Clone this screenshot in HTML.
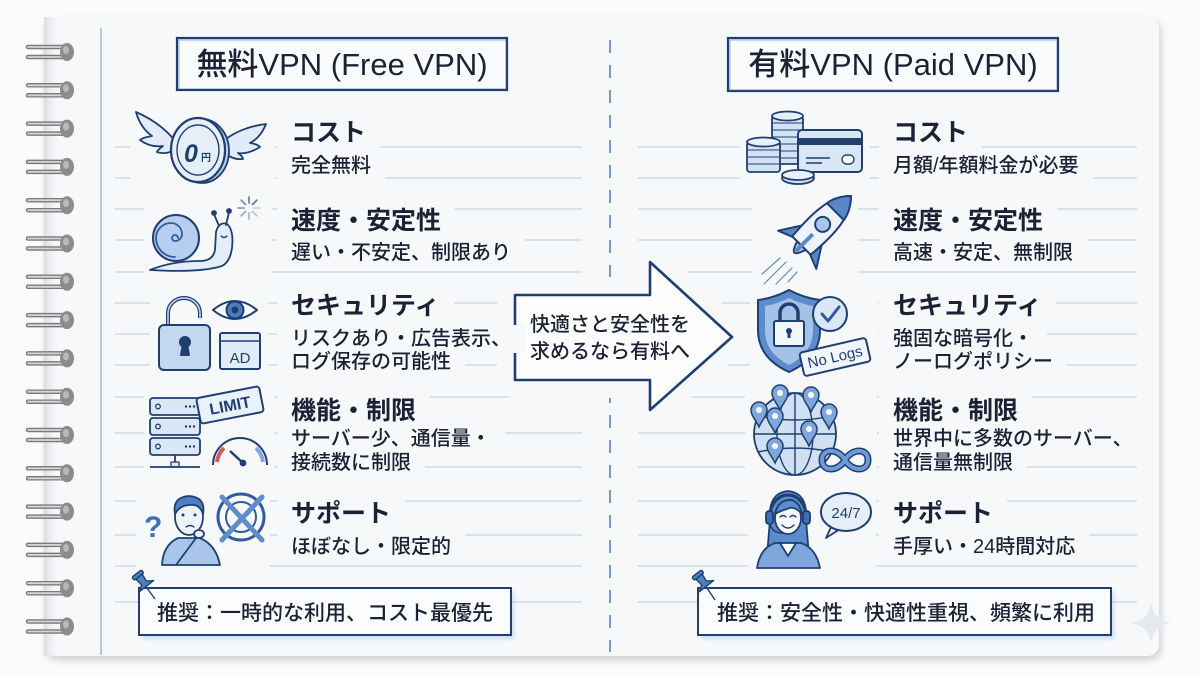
<!DOCTYPE html>
<html><head><meta charset="utf-8">
<style>
html,body{margin:0;padding:0}
body{width:1200px;height:675px;overflow:hidden;position:relative;background:#fbfbfb;font-family:"Liberation Sans","Noto Sans CJK JP",sans-serif;color:#1c2135}
svg{position:absolute;left:0;top:0}
.t{position:absolute;white-space:nowrap;background:#f6f8fa;padding:4px 14px;margin-left:-14px;margin-top:-4px}
.h{font-size:25px;line-height:25px;font-weight:700}
.s{font-size:20px;line-height:20px;font-weight:500}
.title{position:absolute;font-size:31px;line-height:31px;font-weight:500;text-align:center;width:330px;white-space:nowrap}
.rec{position:absolute;font-size:21px;line-height:21px;font-weight:500;white-space:nowrap}
.arr{position:absolute;font-size:20px;line-height:20px;font-weight:500;white-space:nowrap;text-align:center;width:200px}
</style></head><body>
<svg width="1200" height="675" viewBox="0 0 1200 675">
<defs>
<filter id="sh" x="-5%" y="-5%" width="110%" height="115%"><feDropShadow dx="2" dy="4" stdDeviation="4" flood-color="#000" flood-opacity="0.18"/></filter>
<filter id="bl"><feGaussianBlur stdDeviation="2"/></filter>
<linearGradient id="edge" x1="0" x2="1"><stop offset="0" stop-color="#d9dcdf"/><stop offset="1" stop-color="#f6f8fa" stop-opacity="0"/></linearGradient>
<linearGradient id="wire" x1="0" x2="0" y1="0" y2="1"><stop offset="0" stop-color="#eeeeee"/><stop offset="1" stop-color="#8a8a8a"/></linearGradient>
</defs>
<!-- paper -->
<rect x="44" y="17" width="1115" height="639" rx="12" fill="#f6f8fa" filter="url(#sh)"/>
<rect x="44" y="17" width="16" height="639" fill="url(#edge)"/>
<!-- margin line -->
<line x1="101" y1="28" x2="101" y2="655" stroke="#9dbad6" stroke-width="1.5"/>
<!-- ruled lines -->
<g stroke="#c3d6e5" stroke-width="1.3">
<line x1="115" y1="147" x2="582" y2="147"/><line x1="638" y1="147" x2="1137" y2="147"/>
<line x1="115" y1="178" x2="582" y2="178"/><line x1="638" y1="178" x2="1137" y2="178"/>
<line x1="115" y1="209" x2="582" y2="209"/><line x1="638" y1="209" x2="1137" y2="209"/>
<line x1="115" y1="240" x2="582" y2="240"/><line x1="638" y1="240" x2="1137" y2="240"/>
<line x1="115" y1="272" x2="582" y2="272"/><line x1="638" y1="272" x2="1137" y2="272"/>
<line x1="115" y1="303" x2="582" y2="303"/><line x1="638" y1="303" x2="1137" y2="303"/>
<line x1="115" y1="334" x2="582" y2="334"/><line x1="638" y1="334" x2="1137" y2="334"/>
<line x1="115" y1="365" x2="582" y2="365"/><line x1="638" y1="365" x2="1137" y2="365"/>
<line x1="115" y1="397" x2="582" y2="397"/><line x1="638" y1="397" x2="1137" y2="397"/>
<line x1="115" y1="433" x2="582" y2="433"/><line x1="638" y1="433" x2="1137" y2="433"/>
<line x1="115" y1="467" x2="582" y2="467"/><line x1="638" y1="467" x2="1137" y2="467"/>
<line x1="115" y1="501" x2="582" y2="501"/><line x1="638" y1="501" x2="1137" y2="501"/>
<line x1="115" y1="535" x2="582" y2="535"/><line x1="638" y1="535" x2="1137" y2="535"/>
<line x1="115" y1="566" x2="582" y2="566"/><line x1="638" y1="566" x2="1137" y2="566"/>
<line x1="115" y1="602" x2="582" y2="602"/><line x1="638" y1="602" x2="1137" y2="602"/>
</g>
<!-- center dashed -->
<line x1="610" y1="40" x2="610" y2="652" stroke="#6f9ccc" stroke-width="2" stroke-dasharray="13 12"/>
<!-- rings -->
<g id="rings">
<g transform="translate(0,52)"><path d="M28,-5 H66 M28,5 H66" stroke="#7a7a7a" stroke-width="4.5" stroke-linecap="round"/><path d="M28,-5 H66 M28,5 H66" stroke="#d6d6d6" stroke-width="1.8" stroke-linecap="round"/><ellipse cx="67" cy="0" rx="7" ry="9" fill="#8c8c8c"/><ellipse cx="66" cy="-2" rx="3" ry="4" fill="#b9b9b9"/></g>
</g>
<use href="#rings" y="38.3"/><use href="#rings" y="76.6"/><use href="#rings" y="114.9"/><use href="#rings" y="153.2"/><use href="#rings" y="191.5"/><use href="#rings" y="229.8"/><use href="#rings" y="268.1"/><use href="#rings" y="306.4"/><use href="#rings" y="344.7"/><use href="#rings" y="383"/><use href="#rings" y="421.3"/><use href="#rings" y="459.6"/><use href="#rings" y="497.9"/><use href="#rings" y="536.2"/><use href="#rings" y="574.5"/>

<!-- title boxes -->
<rect x="177" y="38" width="330" height="52" fill="#fafbfd" stroke="#1f3f72" stroke-width="2.2"/>
<rect x="179" y="40" width="327" height="49" fill="none" stroke="#3a5f95" stroke-width="0.8" opacity="0.6"/>
<rect x="728" y="38" width="330" height="53" fill="#fafbfd" stroke="#1f3f72" stroke-width="2.2"/>
<rect x="730" y="40" width="327" height="50" fill="none" stroke="#3a5f95" stroke-width="0.8" opacity="0.6"/>

<!-- arrow -->
<polygon points="515,295 650,295 650,262 732,337 650,410 650,380 515,380" fill="#f6f8fa" stroke="#f6f8fa" stroke-width="36" stroke-linejoin="round"/>
<polygon points="515,295 650,295 650,262 732,337 650,410 650,380 515,380" fill="#fdfdfe" stroke="#1f3f72" stroke-width="2.6" stroke-linejoin="round"/>

<!-- icon halos -->
<g fill="#f6f8fa">
<rect x="130" y="106" width="145" height="84"/>
<rect x="144" y="192" width="128" height="82"/>
<rect x="150" y="288" width="118" height="88"/>
<rect x="144" y="382" width="130" height="92"/>
<rect x="136" y="484" width="134" height="88"/>
<rect x="740" y="106" width="130" height="84"/>
<rect x="752" y="190" width="106" height="98"/>
<rect x="750" y="286" width="128" height="92"/>
<rect x="745" y="380" width="132" height="100"/>
<rect x="748" y="484" width="128" height="90"/>
</g>

<!-- ICON 1: winged coin -->
<g stroke="#1f3f72" stroke-width="1.8" stroke-linejoin="round">
<path d="M176,142 C165,128 150,118 136,112 C139,123 145,131 152,136 C146,137 142,138 140,140 C148,146 156,147 163,146 C159,149 157,151 157,152 C165,155 172,152 178,148 Z" fill="#e2ecf8"/>
<path d="M222,142 C234,132 250,126 266,124 C262,134 256,140 250,143 C256,144 258,145 260,147 C252,152 244,154 238,153 C242,156 243,158 243,159 C234,160 228,156 222,151 Z" fill="#e2ecf8"/>
<ellipse cx="202" cy="151" rx="27" ry="32" fill="#b9cfea"/>
<ellipse cx="198" cy="150" rx="27" ry="32" fill="#e6eef8" stroke-width="2.2"/>
<ellipse cx="198" cy="150" rx="21" ry="25" fill="none" stroke-width="1.4"/>
</g>
<text x="184" y="162" font-family="Liberation Sans" font-size="25" font-weight="700" font-style="italic" fill="#1f3f72">0</text>
<text x="201" y="161" font-family="Noto Sans CJK JP" font-size="10" font-weight="700" fill="#1f3f72">円</text>

<!-- ICON 2: snail -->
<g stroke="#1f3f72" stroke-width="1.8" stroke-linejoin="round" stroke-linecap="round">
<path d="M150,270 Q172,261 200,261 Q213,261 215,250 L216,232 Q219,221 227,224 Q234,230 232,248 Q230,262 222,266 Q200,273 150,270 Z" fill="#e4edf8"/>
<path d="M219,226 L214,214 M226,225 L229,212" fill="none"/>
<circle cx="214" cy="213" r="2" fill="#1f3f72"/><circle cx="229" cy="211" r="2" fill="#1f3f72"/>
<path d="M221,236 Q224,239 227,236" fill="none" stroke-width="1.3"/>
<circle cx="176" cy="238" r="23" fill="#b7cfee" stroke-width="2"/>
<path d="M178,238 a3,3 0 1 0 -3,3 a7,7 0 0 0 7,-7 a11,11 0 0 0 -11,-11 a15,15 0 0 0 -15,15 a19,19 0 0 0 19,19" fill="none" stroke="#2f5c9e"/>
</g>
<g stroke="#5b7fa8" stroke-width="1.8" stroke-linecap="round">
<line x1="254" y1="208" x2="260" y2="208" opacity="0.3"/><line x1="252.5" y1="211.5" x2="256.8" y2="215.8" opacity="0.4"/><line x1="249" y1="213" x2="249" y2="219" opacity="0.5"/><line x1="245.5" y1="211.5" x2="241.2" y2="215.8" opacity="0.6"/><line x1="244" y1="208" x2="238" y2="208" opacity="0.7"/><line x1="245.5" y1="204.5" x2="241.2" y2="200.2" opacity="0.8"/><line x1="249" y1="203" x2="249" y2="197" opacity="0.9"/><line x1="252.5" y1="204.5" x2="256.8" y2="200.2"/>
</g>

<!-- ICON 3: lock / eye / AD -->
<g stroke="#1f3f72" stroke-width="2" stroke-linejoin="round">
<path d="M168,326 V313 A16,15 0 0 1 200,313 V318" fill="none" stroke-width="4"/>
<path d="M168,326 V313 A16,15 0 0 1 200,313 V318" fill="none" stroke="#c9dbef" stroke-width="1.5"/>
<rect x="159" y="325" width="51" height="45" rx="5" fill="#c3d7ef"/>
<circle cx="185" cy="342" r="5" fill="#1f3f72"/><path d="M183,344 L181,355 H189 L187,344 Z" fill="#1f3f72"/>
<path d="M213,310 Q235,292 257,310 Q235,328 213,310 Z" fill="#fbfdff"/>
<circle cx="235" cy="310" r="8.5" fill="#4a7cc0"/><circle cx="235" cy="310" r="3.5" fill="#1f3f72" stroke="none"/>
<rect x="220" y="333" width="40" height="36" rx="2" fill="#e2ecf8"/>
<line x1="220" y1="341" x2="260" y2="341" stroke-width="1.5"/>
</g>
<text x="240" y="363" text-anchor="middle" font-family="Liberation Sans" font-size="15" fill="#1f3f72">AD</text>

<!-- ICON 4: server / LIMIT / gauge -->
<g stroke="#1f3f72" stroke-width="1.8" stroke-linejoin="round">
<rect x="150" y="398" width="50" height="17" rx="3" fill="#dbe7f5"/>
<rect x="150" y="418" width="50" height="17" rx="3" fill="#dbe7f5"/>
<rect x="150" y="438" width="50" height="17" rx="3" fill="#dbe7f5"/>
<circle cx="158" cy="406.5" r="2.3" fill="none" stroke-width="1.3"/><circle cx="158" cy="426.5" r="2.3" fill="none" stroke-width="1.3"/><circle cx="158" cy="446.5" r="2.3" fill="none" stroke-width="1.3"/>
<line x1="175" y1="455" x2="175" y2="464"/><rect x="171" y="462" width="8" height="5" fill="#dbe7f5" stroke-width="1.3"/>
<line x1="150" y1="467" x2="200" y2="467"/>
<path d="M213,465 A27,27 0 0 1 267,465" fill="none" stroke-width="2"/>
<path d="M217,462 A23,23 0 0 1 224,448" fill="none" stroke="#d45a5a" stroke-width="4"/>
<path d="M256,448 A23,23 0 0 1 263,462" fill="none" stroke="#7fa7dc" stroke-width="4"/>
<line x1="230" y1="451" x2="243" y2="463" stroke-width="2.5"/><circle cx="243" cy="463" r="2.5" fill="#1f3f72"/>
<g transform="rotate(-11 230 405)"><rect x="198" y="392" width="64" height="26" rx="3" fill="#e9f1fa" stroke-width="2"/></g>
</g>
<g fill="#1f3f72"><circle cx="186" cy="406.5" r="1.2"/><circle cx="190" cy="406.5" r="1.2"/><circle cx="194" cy="406.5" r="1.2"/><circle cx="186" cy="426.5" r="1.2"/><circle cx="190" cy="426.5" r="1.2"/><circle cx="194" cy="426.5" r="1.2"/><circle cx="186" cy="446.5" r="1.2"/><circle cx="190" cy="446.5" r="1.2"/><circle cx="194" cy="446.5" r="1.2"/></g>
<text x="230" y="411" text-anchor="middle" transform="rotate(-11 230 405)" font-family="Liberation Sans" font-size="16" font-weight="700" fill="#1f3f72">LIMIT</text>

<!-- ICON 5: person + X -->
<g stroke="#1f3f72" stroke-width="1.8" stroke-linejoin="round" stroke-linecap="round">
<path d="M162,565 Q163,545 178,538 L200,538 Q216,545 220,565 Z" fill="#a9c6ea"/>
<path d="M176,565 L196,538" fill="none"/>
<ellipse cx="189" cy="517" rx="14" ry="18" fill="#eef3fa"/>
<path d="M175,514 Q172,497 189,496 Q206,497 203,514 Q200,504 190,505 Q180,505 175,514 Z" fill="#4f7fc2"/>
<ellipse cx="199" cy="534" rx="5" ry="4" fill="#eef3fa"/>
<path d="M186,527 Q190,524 194,527" fill="none" stroke-width="1.4"/>
<circle cx="241" cy="517" r="23" fill="none" stroke="#2f5c9e" stroke-width="3"/>
<circle cx="241" cy="517" r="15" fill="none" stroke="#2f5c9e" stroke-width="2"/>
<path d="M222,497 L262,540 M262,497 L222,540" stroke="#5f8dcc" stroke-width="5"/>
</g>
<circle cx="183" cy="515" r="1.5" fill="#1f3f72"/><circle cx="195" cy="515" r="1.5" fill="#1f3f72"/>
<text x="144" y="537" font-family="Liberation Sans" font-size="30" font-weight="700" fill="#3f6fb5">?</text>

<!-- ICON 6: coins + card -->
<g stroke="#1f3f72" stroke-width="1.8" stroke-linejoin="round">
<rect x="772" y="116" width="31" height="48" rx="3" fill="#d3e2f3"/>
<path d="M772,123 H803 M772,130 H803 M772,137 H803 M772,144 H803 M772,151 H803 M772,158 H803" stroke-width="1"/>
<ellipse cx="787.5" cy="116" rx="15.5" ry="4.5" fill="#e8f0f9"/>
<rect x="798" y="130" width="64" height="42" rx="4" fill="#d8e6f6" stroke-width="2"/>
<rect x="798" y="138" width="64" height="7" fill="#233f6e" stroke="none"/>
<path d="M806,158 H830 M806,163 H822" stroke-width="1.4"/>
<rect x="842" y="155" width="12" height="9" rx="4.5" fill="#fbfdff" stroke-width="1.4"/>
<rect x="747" y="142" width="33" height="30" rx="3" fill="#d3e2f3"/>
<path d="M747,150 H780 M747,157 H780 M747,164 H780" stroke-width="1"/>
<ellipse cx="763.5" cy="142" rx="16.5" ry="4.5" fill="#e8f0f9"/>
<ellipse cx="798" cy="178" rx="16" ry="6" fill="#d3e2f3"/>
<ellipse cx="798" cy="175" rx="16" ry="5" fill="#e8f0f9"/>
</g>

<!-- ICON 7: rocket -->
<g stroke="#3f6fb5" stroke-width="1.2" stroke-linecap="round" opacity="0.8">
<path d="M786,262 L764,284 M792,268 L776,284 M780,258 L762,274 M797,272 L788,282"/>
</g>
<g transform="translate(817,230) rotate(45)" stroke="#1f3f72" stroke-width="2" stroke-linejoin="round">
<path d="M-13,6 L-27,28 L-12,22 Z" fill="#5b87c6"/>
<path d="M13,6 L27,28 L12,22 Z" fill="#5b87c6"/>
<path d="M-6,22 Q0,42 6,22 Z" fill="#a9c6ea"/>
<path d="M0,-48 C14,-34 16,-12 13,22 L-13,22 C-16,-12 -14,-34 0,-48 Z" fill="#eef3fa"/>
<path d="M0,-48 C8,-40 11,-32 12,-26 L-12,-26 C-11,-32 -8,-40 0,-48 Z" fill="#5b87c6"/>
<circle cx="0" cy="-8" r="7.5" fill="#a9c6ea"/>
<path d="M0,6 L0,30" stroke-width="4" stroke="#5b87c6"/>
</g>

<!-- ICON 8: shield / check / No Logs -->
<g stroke="#1f3f72" stroke-width="2" stroke-linejoin="round">
<path d="M789,290 Q804,298 820,300 L820,330 Q820,358 789,372 Q758,358 758,330 L758,300 Q774,298 789,290 Z" fill="#5d8bcb"/>
<path d="M789,298 Q801,304 813,306 L813,330 Q813,353 789,365 Q765,353 765,330 L765,306 Q777,304 789,298 Z" fill="#a3c2e8" stroke="none"/>
<path d="M780,322 V313 A9,9 0 0 1 798,313 V322" fill="none" stroke-width="3.5"/>
<rect x="774" y="321" width="30" height="25" rx="2" fill="#f2f6fb"/>
<circle cx="789" cy="331" r="3" fill="#1f3f72" stroke="none"/><rect x="787.5" y="331" width="3" height="7" fill="#1f3f72" stroke="none"/>
<circle cx="830" cy="314" r="17" fill="#d9e7f7"/>
<path d="M822,314 L828,321 L839,307" fill="none" stroke="#2f5c9e" stroke-width="3" stroke-linecap="round"/>
<g transform="rotate(-13 835 357)"><rect x="801" y="345" width="68" height="24" rx="3" fill="#f2f6fb"/></g>
</g>
<text x="835" y="362" text-anchor="middle" transform="rotate(-13 835 357)" font-family="Liberation Sans" font-size="15" fill="#1f3f72">No Logs</text>

<!-- ICON 9: globe + pins + infinity -->
<g stroke="#1f3f72" stroke-width="1.8" stroke-linejoin="round">
<circle cx="795" cy="434" r="41" fill="#cfe0f3"/>
<ellipse cx="795" cy="434" rx="18" ry="41" fill="none" stroke-width="1.4"/>
<path d="M795,393 V475 M754,434 H836 M758,416 Q795,424 832,416 M758,452 Q795,444 832,452" fill="none" stroke-width="1.4"/>
</g>
<g stroke="#1f3f72" stroke-width="1.5" fill="#7fa7dc">
<path d="M780,410 C777,403 772,399 772,393 A8,8 0 1 1 788,393 C788,399 783,403 780,410 Z"/>
<path d="M811,412 C808,405 803,401 803,395 A8,8 0 1 1 819,395 C819,401 814,405 811,412 Z"/>
<path d="M759,427 C756,420 751,416 751,410 A8,8 0 1 1 767,410 C767,416 762,420 759,427 Z"/>
<path d="M775,433 C772,426 767,422 767,416 A8,8 0 1 1 783,416 C783,422 778,426 775,433 Z"/>
<path d="M829,429 C826,422 821,418 821,412 A8,8 0 1 1 837,412 C837,418 832,422 829,429 Z"/>
<path d="M809,446 C806,439 801,435 801,429 A8,8 0 1 1 817,429 C817,435 812,439 809,446 Z"/>
<path d="M775,463 C772,456 767,452 767,446 A8,8 0 1 1 783,446 C783,452 778,456 775,463 Z"/>
</g>
<g fill="#fbfdff"><circle cx="780" cy="393" r="3"/><circle cx="811" cy="395" r="3"/><circle cx="759" cy="410" r="3"/><circle cx="775" cy="416" r="3"/><circle cx="829" cy="412" r="3"/><circle cx="809" cy="429" r="3"/><circle cx="775" cy="446" r="3"/></g>
<path d="M845,460 C838,448 822,448 822,460 C822,472 838,472 845,460 C852,448 868,448 868,460 C868,472 852,472 845,460 Z" fill="none" stroke="#1f3f72" stroke-width="7"/>
<path d="M845,460 C838,448 822,448 822,460 C822,472 838,472 845,460 C852,448 868,448 868,460 C868,472 852,472 845,460 Z" fill="none" stroke="#6f9ad6" stroke-width="4"/>

<!-- ICON 10: support woman + bubble -->
<g stroke="#1f3f72" stroke-width="1.8" stroke-linejoin="round" stroke-linecap="round">
<path d="M770,520 Q768,493 788,491 Q808,493 806,520 L809,556 L767,556 Z" fill="#5d8bcb"/>
<path d="M757,568 Q760,548 775,543 L801,543 Q816,548 820,568 Z" fill="#7fa7dc"/>
<path d="M780,543 L788,556 L796,543 Z" fill="#fbfdff"/>
<ellipse cx="788" cy="518" rx="13" ry="16" fill="#f4f7fb"/>
<path d="M775,514 Q778,499 792,500 Q800,503 802,514 Q794,505 787,509 Q780,511 775,514 Z" fill="#5d8bcb"/>
<path d="M770,516 A18,21 0 0 1 806,516" fill="none" stroke-width="3"/>
<rect x="766" y="511" width="7" height="13" rx="3" fill="#3f6fb5"/>
<rect x="803" y="511" width="7" height="13" rx="3" fill="#3f6fb5"/>
<path d="M770,524 Q772,533 783,533" fill="none" stroke-width="1.6"/>
<path d="M782,525 Q788,531 794,525" fill="#fbfdff" stroke-width="1.4"/>
<path d="M780,517 Q783,514 786,517 M790,517 Q793,514 796,517" fill="none" stroke-width="1.3"/>
<path d="M832,525 L826,538 L840,529" fill="#e6eff9"/>
<ellipse cx="846" cy="512" rx="25" ry="19" fill="#e6eff9" stroke-width="2"/>
</g>
<text x="846" y="518" text-anchor="middle" font-family="Liberation Sans" font-size="15" fill="#1f3f72">24/7</text>

<!-- rec boxes -->
<rect x="142" y="592" width="372" height="47" fill="#a9c5ea" opacity="0.55" filter="url(#bl)"/>
<rect x="139" y="588" width="372" height="47" fill="#fafcfe" stroke="#1f3f72" stroke-width="2"/>
<rect x="701" y="592" width="413" height="47" fill="#a9c5ea" opacity="0.55" filter="url(#bl)"/>
<rect x="698" y="588" width="413" height="47" fill="#fafcfe" stroke="#1f3f72" stroke-width="2"/>

<!-- pushpins -->
<g stroke="#1f3f72" stroke-width="1.4" stroke-linejoin="round">
<line x1="147" y1="588" x2="155" y2="599"/>
<g transform="rotate(-38 144 583)"><rect x="138" y="571" width="12" height="4" rx="1.5" fill="#4f7fc2"/><path d="M140,575 L148,575 L147,583 L153,587 L135,587 L141,583 Z" fill="#4f7fc2"/></g>
<line x1="707" y1="588" x2="715" y2="600"/>
<g transform="rotate(-38 704 583)"><rect x="698" y="571" width="12" height="4" rx="1.5" fill="#4f7fc2"/><path d="M700,575 L708,575 L707,583 L713,587 L695,587 L701,583 Z" fill="#4f7fc2"/></g>
</g>

<!-- sparkle -->
<path d="M1151,603 Q1154,620 1171,623 Q1154,626 1151,643 Q1148,626 1131,623 Q1148,620 1151,603 Z" fill="#e6e9ee"/>
</svg>

<div class="title" style="left:177px;top:49px">無料VPN (Free VPN)</div>
<div class="title" style="left:728px;top:49px">有料VPN (Paid VPN)</div>

<div class="t h" style="left:291px;top:121px">コスト</div>
<div class="t s" style="left:291px;top:156px">完全無料</div>
<div class="t h" style="left:291px;top:209px">速度・安定性</div>
<div class="t s" style="left:291px;top:243px">遅い・不安定、制限あり</div>
<div class="t h" style="left:291px;top:294px">セキュリティ</div>
<div class="t s" style="left:291px;top:329px">リスクあり・広告表示、</div>
<div class="t s" style="left:291px;top:352px">ログ保存の可能性</div>
<div class="t h" style="left:291px;top:399px">機能・制限</div>
<div class="t s" style="left:291px;top:429px">サーバー少、通信量・</div>
<div class="t s" style="left:291px;top:453px">接続数に制限</div>
<div class="t h" style="left:291px;top:502px">サポート</div>
<div class="t s" style="left:291px;top:537px">ほぼなし・限定的</div>

<div class="t h" style="left:893px;top:121px">コスト</div>
<div class="t s" style="left:893px;top:156px">月額/年額料金が必要</div>
<div class="t h" style="left:893px;top:209px">速度・安定性</div>
<div class="t s" style="left:893px;top:243px">高速・安定、無制限</div>
<div class="t h" style="left:893px;top:294px">セキュリティ</div>
<div class="t s" style="left:893px;top:329px">強固な暗号化・</div>
<div class="t s" style="left:893px;top:352px">ノーログポリシー</div>
<div class="t h" style="left:893px;top:399px">機能・制限</div>
<div class="t s" style="left:893px;top:429px">世界中に多数のサーバー、</div>
<div class="t s" style="left:893px;top:453px">通信量無制限</div>
<div class="t h" style="left:893px;top:502px">サポート</div>
<div class="t s" style="left:893px;top:537px">手厚い・24時間対応</div>

<div class="arr" style="left:510px;top:315px">快適さと安全性を</div>
<div class="arr" style="left:510px;top:342px">求めるなら有料へ</div>

<div class="rec" style="left:157px;top:603px">推奨：一時的な利用、コスト最優先</div>
<div class="rec" style="left:717px;top:603px">推奨：安全性・快適性重視、頻繁に利用</div>
</body></html>
